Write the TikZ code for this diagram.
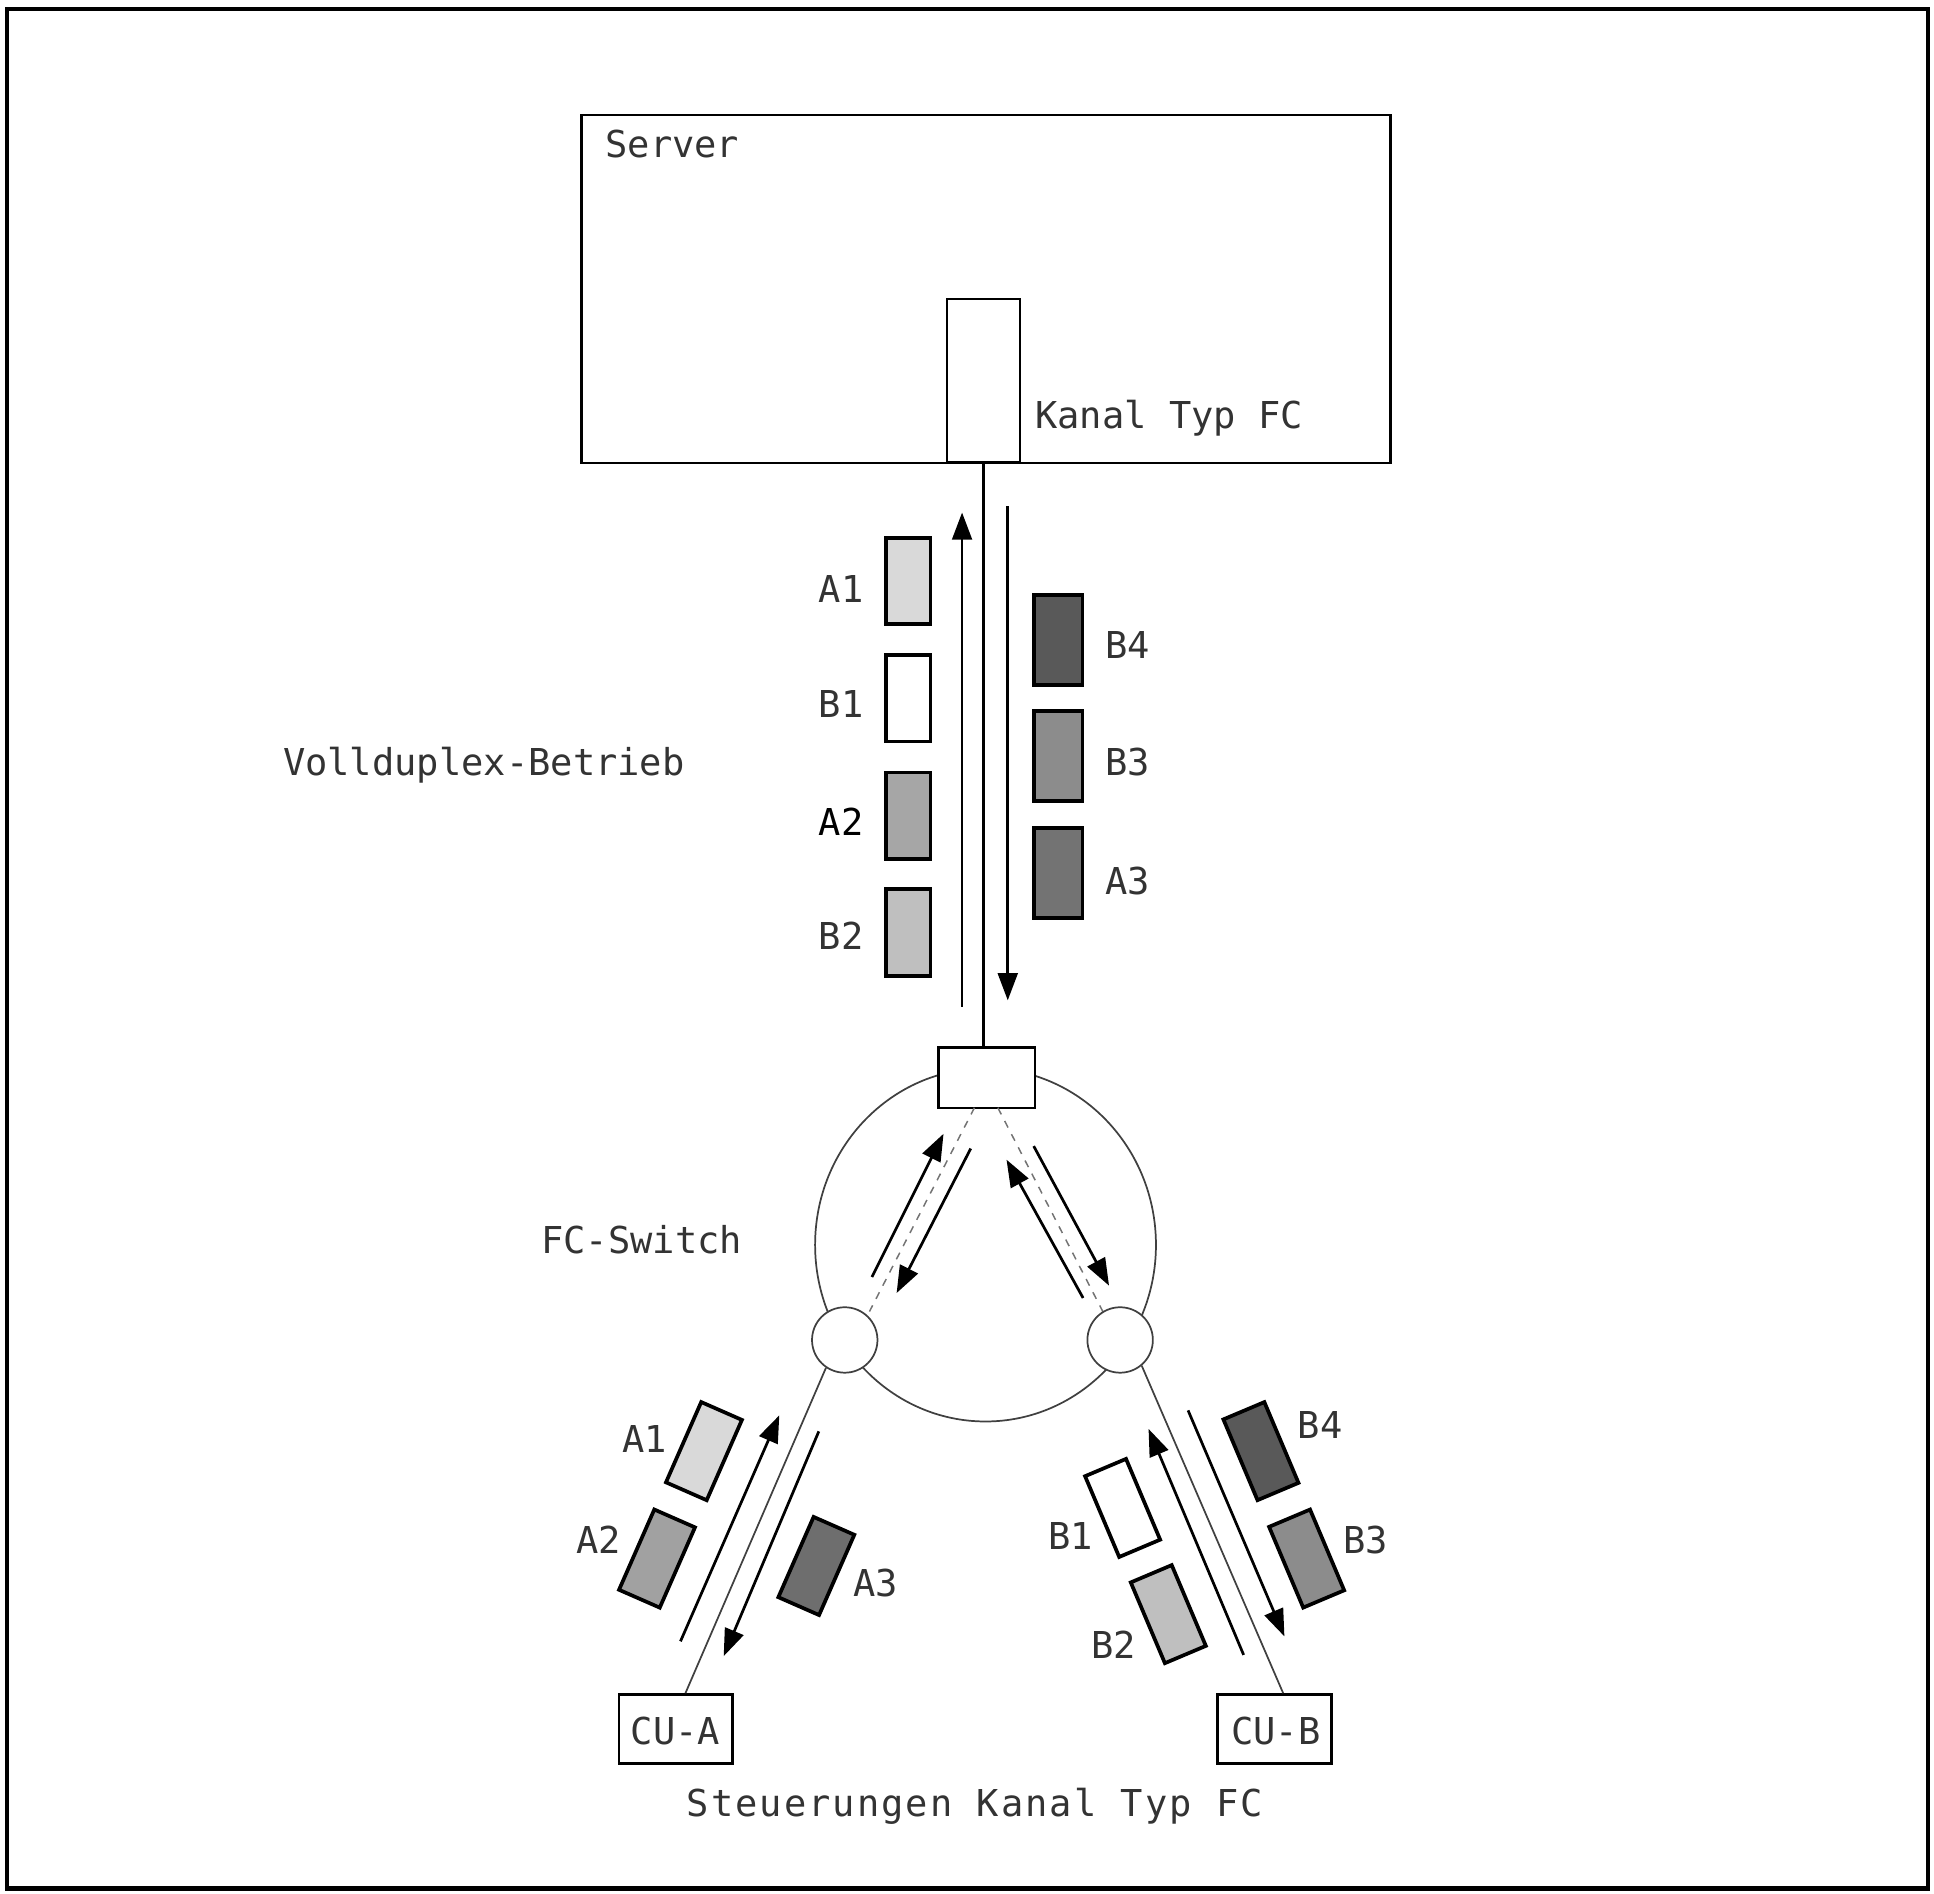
\documentclass[tikz,border=0pt]{standalone}
\usepackage{fontspec}
\setmonofont{DejaVu Sans Mono}
\usetikzlibrary{arrows.meta,calc,shapes.geometric}
\begin{document}
\begin{tikzpicture}[x=1pt,y=-1pt,
  lbl/.style={font=\fontsize{30}{36}\selectfont\ttfamily, text=black!80, inner sep=0pt},
  thinln/.style={line width=1.4pt, draw=black!75},
  ln/.style={line width=2pt},
  boxln/.style={draw, line width=2pt, inner sep=0pt},
  arr/.style={line width=2.2pt, -{Triangle[length=22pt,width=16pt]}},
  dashln/.style={line width=1.2pt, draw=black!55, dash pattern=on 6pt off 6pt},
  pkt/.style={draw, line width=3pt, minimum width=36pt, minimum height=71pt, inner sep=0pt},
  pktl/.style={pkt, rotate=-23.7},
  pktr/.style={pkt, rotate=22.9}]
\useasboundingbox (0,0) rectangle (1566,1533);
% frame
\node[draw, line width=3.3pt, minimum width=1555.5pt, minimum height=1522pt, inner sep=0pt, anchor=north west] (frame) at (4,5.5) {};
% server
\node[boxln, line width=1.8pt, minimum width=655pt, minimum height=282pt, anchor=north west] (server) at (470,92) {};
\node[lbl, anchor=west] (servert) at (490,117) {Server};
\node[boxln, line width=1.8pt, minimum width=59pt, minimum height=132pt] (kanal) at (796.5,308) {};
\node[lbl, anchor=base west] (kanalt) at (838,347) {Kanal Typ FC};
% switch
\node[ellipse, thinln, draw, minimum width=276pt, minimum height=286pt, inner sep=0pt] (ring) at (798,1008) {};
\node[boxln, fill=white, minimum width=78pt, minimum height=49pt] (sw) at (799,872.5) {};
\draw[ln] (kanal.south) -- (kanal.south |- sw.north);
\node[lbl, anchor=west] (fcsw) at (438,1004) {FC-Switch};
\coordinate (dla) at (789,897);
\coordinate (dlb) at (704,1062);
\coordinate (dra) at (808,897);
\coordinate (drb) at (893,1062);
\draw[dashln] (dla) -- (dlb);
\draw[dashln] (dra) -- (drb);
\node[circle, thinln, draw, fill=white, minimum size=53pt, inner sep=0pt] (pl) at (684,1085) {};
\node[circle, thinln, draw, fill=white, minimum size=53pt, inner sep=0pt] (pr) at (907,1085) {};
\coordinate (s1a) at (706,1034); \coordinate (s1b) at (764,918);
\coordinate (s2a) at (786,930);  \coordinate (s2b) at (726,1047);
\coordinate (s3a) at (877,1051); \coordinate (s3b) at (815,939);
\coordinate (s4a) at (837,928);  \coordinate (s4b) at (898,1041);
\draw[arr] (s1a) -- (s1b);
\draw[arr] (s2a) -- (s2b);
\draw[arr] (s3a) -- (s3b);
\draw[arr] (s4a) -- (s4b);
% vertical link
\coordinate (u1) at (779,815); \coordinate (u2) at (779,415);
\coordinate (d1) at (816,410); \coordinate (d2) at (816,810);
\draw[arr] (u1) -- (u2);
\draw[arr] (d1) -- (d2);
\node[pkt, minimum height=70pt, fill=black!15] (va1) at (735.5,470.5) {};
\node[pkt, minimum height=70pt, fill=white]    (vb1) at (735.5,565.5) {};
\node[pkt, minimum height=70pt, fill=black!35] (va2) at (735.5,660.5) {};
\node[pkt, minimum height=70pt, fill=black!25] (vb2) at (735.5,755) {};
\node[pkt, minimum width=39pt, minimum height=73pt, fill=black!65] (vb4) at (857,518) {};
\node[pkt, minimum width=39pt, minimum height=73pt, fill=black!45] (vb3) at (857,612) {};
\node[pkt, minimum width=39pt, minimum height=73pt, fill=black!55] (va3) at (857,707) {};
\node[lbl] (tva1) at (681,477) {A1};
\node[lbl] (tvb1) at (681,570) {B1};
\node[lbl, text=black] (tva2) at (681,665) {A2};
\node[lbl] (tvb2) at (681,758) {B2};
\node[lbl] (tvb4) at (913,522) {B4};
\node[lbl] (tvb3) at (913,617) {B3};
\node[lbl] (tva3) at (913,713) {A3};
\node[lbl, anchor=base west] (voll) at (229,628) {Vollduplex-Betrieb};
% control units
\node[boxln, minimum width=92pt, minimum height=56pt] (cua) at (547,1400) {};
\node[lbl] (cuat) at (547,1402) {CU-A};
\node[boxln, minimum width=92pt, minimum height=56pt] (cub) at (1032,1400) {};
\node[lbl] (cubt) at (1033,1402) {CU-B};
\node[lbl, anchor=base west] (steu) at (556,1471) {\addfontfeature{LetterSpace=5.5}Steuerungen Kanal Typ FC};
\draw[thinln] (pl.236) -- ($(cua.north)+(8,0)$);
\draw[thinln] (pr.310) -- ($(cub.north)+(7,0)$);
% lower left
\coordinate (la1) at (551,1329); \coordinate (la2) at (631,1146);
\coordinate (lb1) at (663,1159); \coordinate (lb2) at (586,1341);
\draw[arr] (la1) -- (la2);
\draw[arr] (lb1) -- (lb2);
\node[pktl, fill=black!15] (la1b) at (570,1175) {};
\node[pktl, fill=black!37] (la2b) at (532,1262) {};
\node[pktl, fill=black!57] (la3b) at (661,1268) {};
\node[lbl] (tla1) at (522,1165) {A1};
\node[lbl] (tla2) at (484.5,1247) {A2};
\node[lbl] (tla3) at (709,1282) {A3};
% lower right
\coordinate (ra1) at (1007,1340); \coordinate (ra2) at (930,1157);
\coordinate (rb1) at (962,1142); \coordinate (rb2) at (1040,1325);
\draw[arr] (ra1) -- (ra2);
\draw[arr] (rb1) -- (rb2);
\node[pktr, fill=white]    (rb1b) at (909,1221) {};
\node[pktr, fill=black!25] (rb2b) at (946,1307) {};
\node[pktr, fill=black!65] (rb4b) at (1021,1175) {};
\node[pktr, fill=black!45] (rb3b) at (1058,1262) {};
\node[lbl] (trb4) at (1069,1154) {B4};
\node[lbl] (trb1) at (867,1244) {B1};
\node[lbl] (trb3) at (1106,1247) {B3};
\node[lbl] (trb2) at (902,1332) {B2};
\end{tikzpicture}
\end{document}
